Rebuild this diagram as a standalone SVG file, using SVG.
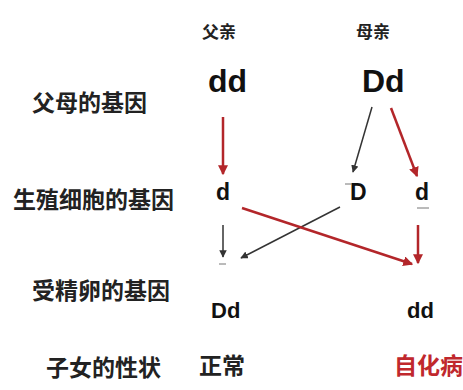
<svg xmlns="http://www.w3.org/2000/svg" width="463" height="390" viewBox="0 0 463 390">
<style>
.lab{font-family:"Noto Sans CJK SC","Noto Sans CJK JP",sans-serif;font-weight:bold;font-size:23px;fill:#222}
.hd{font-family:"Noto Sans CJK SC","Noto Sans CJK JP",sans-serif;font-weight:bold;font-size:17px;fill:#222}
.g{font-family:"Liberation Sans",Arial,sans-serif;font-weight:bold;fill:#111}
.red{stroke:#b3262a;stroke-width:2.5;fill:none}
.blk{stroke:#333;stroke-width:1.5;fill:none}
.dash{stroke:#777;stroke-width:1}
</style>
<defs>
<marker id="ar" markerWidth="4" markerHeight="4" refX="3.5" refY="2" orient="auto" markerUnits="strokeWidth"><path d="M0,0 L4,2 L0,4 z" fill="#b3262a"/></marker>
<marker id="ab" markerWidth="5" markerHeight="5" refX="4.5" refY="2.5" orient="auto" markerUnits="strokeWidth"><path d="M0,0 L5,2.5 L0,5 z" fill="#333"/></marker>
</defs>
<rect width="463" height="390" fill="#fff"/>
<g id="labels">
<text class="lab" x="32" y="111">父母的基因</text>
<text class="lab" x="13" y="208">生殖细胞的基因</text>
<text class="lab" x="32" y="299">受精卵的基因</text>
<text class="lab" x="46" y="376">子女的性状</text>
</g>
<g id="father"><text class="hd" x="202" y="38">父亲</text><text class="g" x="208" y="92" font-size="32">dd</text></g>
<g id="mother"><text class="hd" x="356" y="38">母亲</text><text class="g" x="362" y="92" font-size="32">Dd</text></g>
<g id="gamete-f-d"><text class="g" x="216" y="200" font-size="23">d</text></g>
<g id="gamete-m-D"><text class="g" x="350" y="200" font-size="23">D</text></g>
<g id="gamete-m-d"><text class="g" x="415" y="200" font-size="23">d</text></g>
<g id="zygote-Dd"><text class="g" x="211" y="318" font-size="22">Dd</text></g>
<g id="zygote-dd"><text class="g" x="407" y="318" font-size="22">dd</text></g>
<g id="trait-normal"><text class="lab" x="199" y="374">正常</text></g>
<g id="trait-albino"><text class="lab" x="394" y="374" style="fill:#c0282d">自化病</text></g>
<g id="connectors">
<line class="red" x1="223" y1="117" x2="223" y2="174" marker-end="url(#ar)"/>
<line class="blk" x1="372" y1="107" x2="353" y2="172" marker-end="url(#ab)"/>
<line class="red" x1="391" y1="108" x2="417" y2="176" marker-end="url(#ar)"/>
<line class="blk" x1="223" y1="225" x2="223" y2="257" marker-end="url(#ab)"/>
<line class="blk" x1="340" y1="207" x2="241" y2="258" marker-end="url(#ab)"/>
<line class="red" x1="242" y1="208" x2="412" y2="264" marker-end="url(#ar)"/>
<line class="red" x1="418" y1="225" x2="418" y2="263" marker-end="url(#ar)"/>
<line class="dash" x1="417" y1="208" x2="429" y2="208"/>
<line class="dash" x1="219" y1="264" x2="226" y2="264"/>
<line class="dash" x1="345" y1="184" x2="352" y2="184"/>
</g>
</svg>
